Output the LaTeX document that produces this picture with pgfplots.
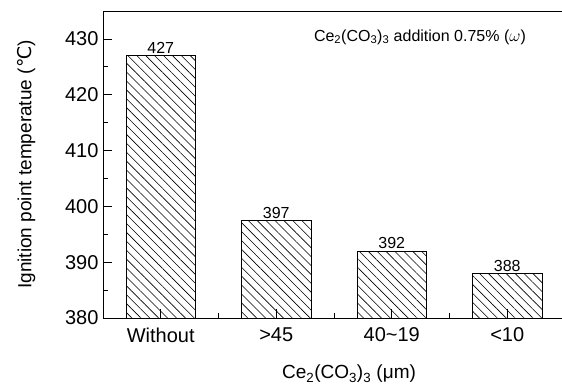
\documentclass[border=0pt]{standalone}
\usepackage{pgfplots}
\pgfplotsset{compat=1.18}
\usepackage{fontspec}
\setmainfont{Liberation Sans}
\newfontfamily\dv{DejaVu Sans}
\usetikzlibrary{patterns.meta}
\begin{document}
\begin{tikzpicture}
\begin{axis}[
  name=ax,
  scale only axis,
  width=462pt, height=307pt,
  xmin=-0.5, xmax=3.5,
  ymin=380, ymax=435,
  xtick pos=bottom,
  ytick pos=left,
  xtick={0,1,2,3},
  xticklabels={Without,{>45},40\char`\~19,{<10}},
  minor xtick={0.5,1.5,2.5},
  ytick={380,390,400,410,420,430},
  minor ytick={385,395,405,415,425},
  tick align=inside,
  major tick length=9pt,
  minor tick length=5pt,
  tick style={black, line width=0.7pt},
  axis line style={black, line width=0.9pt},
  /pgf/number format/assume math mode=true,
  ticklabel style={font=\fontsize{20}{22}\selectfont},
  xticklabel style={yshift=-6pt},
  yticklabel style={xshift=-1pt},
  ylabel={Ignition point temperatue ({\dv ℃})},
  xlabel={Ce\textsubscript{2}(CO\textsubscript{3})\textsubscript{3} (μm)},
  label style={font=\fontsize{19}{21}\selectfont},
  xlabel style={yshift=-16pt, xshift=15pt},
  ylabel style={yshift=23pt},
  clip=false,
  point meta=explicit symbolic,
]
\addplot[ybar, bar width=0.6, draw=black, line width=0.8pt,
  pattern={Lines[angle=-45, distance=6.3pt, line width=0.6pt]},
  nodes near coords,
  every node near coord/.append style={font=\fontsize{16}{18}\selectfont, anchor=south, inner sep=1.5pt},
] coordinates {(0,427) [427] (1,397.5) [397] (2,392) [392] (3,388) [388]};
\node[font=\fontsize{16}{18}\selectfont] at (rel axis cs:0.686,0.915)
  {Ce\textsubscript{2}(CO\textsubscript{3})\textsubscript{3} addition 0.75\% ($\omega$)};
\end{axis}
\pgfresetboundingbox
\path (ax.south west) ++(-103pt,-73pt) rectangle ++(562pt,391pt);
\end{tikzpicture}
\end{document}
